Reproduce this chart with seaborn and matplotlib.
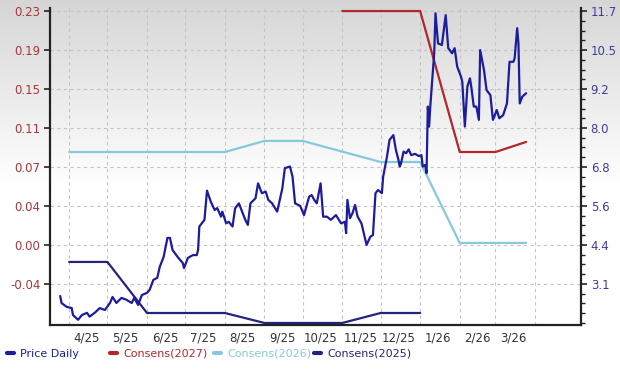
import numpy as np
import pandas as pd
import matplotlib.pyplot as plt
import matplotlib.dates as mdates
from matplotlib.ticker import FixedLocator, FixedFormatter, AutoMinorLocator, NullFormatter
from matplotlib.colors import LinearSegmentedColormap
from matplotlib.lines import Line2D
import seaborn as sns

sns.set_style("white")
plt.rcParams["font.family"] = ["DejaVu Sans"]

# --- data ------------------------------------------------------------------

price_dates = [
    "2025-03-25", "2025-03-26", "2025-03-30", "2025-04-03", "2025-04-04",
    "2025-04-08", "2025-04-11", "2025-04-15", "2025-04-17", "2025-04-21",
    "2025-04-25", "2025-04-29", "2025-05-03", "2025-05-05", "2025-05-08",
    "2025-05-12", "2025-05-16", "2025-05-20", "2025-05-22", "2025-05-25",
    "2025-05-28", "2025-06-01", "2025-06-03", "2025-06-06", "2025-06-09",
    "2025-06-11", "2025-06-14", "2025-06-17", "2025-06-19", "2025-06-21",
    "2025-06-25", "2025-06-29", "2025-06-30", "2025-07-03", "2025-07-07",
    "2025-07-10", "2025-07-11", "2025-07-12", "2025-07-16", "2025-07-18",
    "2025-07-21", "2025-07-24", "2025-07-26", "2025-07-29", "2025-07-30",
    "2025-08-02", "2025-08-04", "2025-08-07", "2025-08-09", "2025-08-12",
    "2025-08-14", "2025-08-17", "2025-08-19", "2025-08-21", "2025-08-25",
    "2025-08-27", "2025-08-30", "2025-09-02", "2025-09-04", "2025-09-07",
    "2025-09-11", "2025-09-15", "2025-09-17", "2025-09-21", "2025-09-23",
    "2025-09-25", "2025-09-29", "2025-10-02", "2025-10-06", "2025-10-08",
    "2025-10-10", "2025-10-12", "2025-10-15", "2025-10-17", "2025-10-20",
    "2025-10-23", "2025-10-27", "2025-10-31", "2025-11-03", "2025-11-04",
    "2025-11-05", "2025-11-07", "2025-11-09", "2025-11-11", "2025-11-13",
    "2025-11-16", "2025-11-20", "2025-11-23", "2025-11-25", "2025-11-27",
    "2025-11-29", "2025-12-02", "2025-12-03", "2025-12-06", "2025-12-08",
    "2025-12-11", "2025-12-13", "2025-12-15", "2025-12-16", "2025-12-17",
    "2025-12-19", "2025-12-21", "2025-12-23", "2025-12-25", "2025-12-28",
    "2025-12-31", "2026-01-02", "2026-01-03", "2026-01-05", "2026-01-06",
    "2026-01-07", "2026-01-08", "2026-01-09", "2026-01-12", "2026-01-13",
    "2026-01-15", "2026-01-18", "2026-01-21", "2026-01-23", "2026-01-26",
    "2026-01-28", "2026-01-30", "2026-02-02", "2026-02-03", "2026-02-05",
    "2026-02-07", "2026-02-09", "2026-02-10", "2026-02-12", "2026-02-14",
    "2026-02-16", "2026-02-17", "2026-02-20", "2026-02-22", "2026-02-25",
    "2026-02-27", "2026-03-02", "2026-03-04", "2026-03-07", "2026-03-10",
    "2026-03-12", "2026-03-15", "2026-03-16", "2026-03-18", "2026-03-19",
    "2026-03-20", "2026-03-22", "2026-03-25",
]
price_values = [
    2.72, 2.50, 2.38, 2.34, 2.12, 1.97, 2.12, 2.19, 2.07, 2.19,
    2.34, 2.28, 2.50, 2.69, 2.50, 2.66, 2.60, 2.50, 2.66, 2.44,
    2.75, 2.82, 2.91, 3.23, 3.29, 3.64, 3.95, 4.55, 4.55, 4.17,
    3.95, 3.76, 3.60, 3.92, 4.01, 4.01, 4.17, 4.91, 5.12, 6.04,
    5.69, 5.43, 5.49, 5.22, 5.38, 5.01, 5.06, 4.91, 5.48, 5.64,
    5.43, 5.12, 4.96, 5.64, 5.80, 6.27, 5.96, 6.01, 5.75, 5.64,
    5.38, 6.11, 6.75, 6.80, 6.48, 5.64, 5.56, 5.27, 5.85, 5.90,
    5.75, 5.64, 6.27, 5.22, 5.22, 5.12, 5.27, 5.01, 5.06, 4.70,
    5.75, 5.17, 5.33, 5.59, 5.22, 5.01, 4.33, 4.59, 4.64, 5.96,
    6.06, 5.96, 6.48, 7.11, 7.64, 7.79, 7.32, 7.01, 6.80, 6.90,
    7.27, 7.22, 7.34, 7.16, 7.20, 7.13, 7.16, 6.80, 6.85, 6.59,
    8.69, 8.06, 8.74, 10.37, 11.63, 10.68, 10.63, 11.57, 10.53, 10.37,
    10.53, 9.95, 9.63, 9.47, 8.06, 9.32, 9.58, 9.32, 8.69, 8.69,
    8.27, 10.47, 9.84, 9.21, 9.05, 8.27, 8.58, 8.32, 8.42, 8.79,
    10.10, 10.10, 10.21, 11.16, 10.68, 8.79, 9.00, 9.11,
]

cons2027_dates = ["2025-11-01", "2026-01-01", "2026-02-01", "2026-03-01", "2026-03-25"]
cons2027_values = [0.230, 0.230, 0.0914, 0.0914, 0.1013]

cons2026_dates = ["2025-04-01", "2025-08-01", "2025-09-01", "2025-10-01",
                  "2025-12-01", "2026-01-01", "2026-02-01", "2026-03-25"]
cons2026_values = [0.0914, 0.0914, 0.1023, 0.1023, 0.0816, 0.0816, 0.002, 0.002]

cons2025_dates = ["2025-04-01", "2025-05-01", "2025-06-01", "2025-08-01",
                  "2025-09-01", "2025-11-01", "2025-12-01", "2026-01-01"]
cons2025_values = [-0.0167, -0.0167, -0.0669, -0.0669, -0.0767, -0.0767, -0.0669, -0.0669]

month_labels = ["4/25", "5/25", "6/25", "7/25", "8/25", "9/25",
                "10/25", "11/25", "12/25", "1/26", "2/26", "3/26"]
left_labels = ["-0.04", "0.00", "0.04", "0.07", "0.11", "0.15", "0.19", "0.23"]
right_labels = ["3.1", "4.4", "5.6", "6.8", "8.0", "9.2", "10.5", "11.7"]
legend_names = ["Price Daily", "Consens(2027)", "Consens(2026)", "Consens(2025)"]

# --- styling ----------------------------------------------------------------

c_price = "#1c1c9c"
c_2027 = "#b3262b"
c_2026 = "#86c9dc"
c_2025 = "#24247e"

price = pd.DataFrame({"date": pd.to_datetime(price_dates), "value": price_values})
c27 = pd.DataFrame({"date": pd.to_datetime(cons2027_dates), "value": cons2027_values})
c26 = pd.DataFrame({"date": pd.to_datetime(cons2026_dates), "value": cons2026_values})
c25 = pd.DataFrame({"date": pd.to_datetime(cons2025_dates), "value": cons2025_values})

fig = plt.figure(figsize=(6.2, 3.7), dpi=100)

# grey-to-white background
bg = fig.add_axes([0, 0, 1, 1], zorder=-10)
grad = np.linspace(0, 1, 256).reshape(-1, 1)
cmap = LinearSegmentedColormap.from_list("bg", ["#d6d6d6", "#ffffff", "#ffffff"])
bg.imshow(grad, aspect="auto", cmap=cmap, extent=[0, 1, 0, 1], origin="upper")
bg.axis("off")

ax = fig.add_axes([50 / 620, 1 - 325 / 370, 531 / 620, 317 / 370])
ax.set_facecolor("none")

step_l = 0.23 / 6
left_ticks = [step_l * k for k in range(-1, 7)]
ylim_l = (-0.0787, 0.2330)

sns.lineplot(data=c25, x="date", y="value", ax=ax, color=c_2025, lw=1.6)
sns.lineplot(data=c26, x="date", y="value", ax=ax, color=c_2026, lw=1.6)
sns.lineplot(data=c27, x="date", y="value", ax=ax, color=c_2027, lw=1.6)

ax.set_ylim(*ylim_l)
ax.set_xlim(pd.Timestamp("2025-03-17"), pd.Timestamp("2026-05-07"))
ax.yaxis.set_major_locator(FixedLocator(left_ticks))
ax.yaxis.set_major_formatter(FixedFormatter(left_labels))

label_pos = []
for lab in month_labels:
    m, y = lab.split("/")
    label_pos.append(mdates.date2num(pd.Timestamp(2000 + int(y), int(m), 15)))
month_starts = mdates.date2num(pd.date_range("2025-04-01", "2026-04-01", freq="MS"))
ax.xaxis.set_major_locator(FixedLocator(label_pos))
ax.xaxis.set_major_formatter(FixedFormatter(month_labels))
ax.xaxis.set_minor_locator(FixedLocator(month_starts))
ax.xaxis.set_minor_formatter(NullFormatter())

ax.grid(False)
ax.grid(True, axis="y", which="major", color="#c4c4c4", ls=(0, (3, 3)), lw=0.8)
ax.grid(True, axis="x", which="minor", color="#c4c4c4", ls=(0, (3, 3)), lw=0.8)
ax.set_xlabel("")
ax.set_ylabel("")

ax.tick_params(axis="y", which="major", length=4, width=1.2, color="#222222",
               labelsize=8.5, labelcolor="#a3383b", pad=3, left=True)
ax.tick_params(axis="x", which="both", length=0, labelsize=8.5,
               labelcolor="#333333", pad=5)

for s in ["top", "right"]:
    ax.spines[s].set_visible(False)
for s in ["left", "bottom"]:
    ax.spines[s].set_color("#222222")
    ax.spines[s].set_linewidth(1.6)

# price on the right axis
ax2 = ax.twinx()
ax2.set_facecolor("none")
step_r = (11.7 - 3.1) / 7


def to_right(v):
    return 3.1 + (v + step_l) / step_l * step_r


ax2.set_ylim(to_right(ylim_l[0]), to_right(ylim_l[1]))
sns.lineplot(data=price, x="date", y="value", ax=ax2, color=c_price, lw=1.6)
ax2.yaxis.set_major_locator(FixedLocator([3.1 + step_r * k for k in range(8)]))
ax2.yaxis.set_major_formatter(FixedFormatter(right_labels))
ax2.yaxis.set_minor_locator(AutoMinorLocator(4))
ax2.grid(False)
ax2.set_xlabel("")
ax2.set_ylabel("")
ax2.tick_params(axis="y", which="major", length=4, width=1.2, color="#222222",
                labelsize=8.5, labelcolor="#3d3d9c", pad=3, right=True)
ax2.tick_params(axis="y", which="minor", length=3, width=1.0, color="#222222", right=True)
for s in ["top", "left", "bottom"]:
    ax2.spines[s].set_visible(False)
ax2.spines["right"].set_color("#222222")
ax2.spines["right"].set_linewidth(1.6)

# legend along the bottom, one entry per slot
legend_colors = [c_price, c_2027, c_2026, c_2025]
legend_x = [7 / 620, 110 / 620, 214 / 620, 314 / 620]
for name, col, x in zip(legend_names, legend_colors, legend_x):
    fig.legend([Line2D([], [], color=col, lw=3)], [name], loc="center left",
               bbox_to_anchor=(x, 1 - 354 / 370), frameon=False, fontsize=8,
               handlelength=0.6, handletextpad=0.6, borderpad=0,
               borderaxespad=0, labelcolor=[col])

fig.savefig("out.png", dpi=100)
